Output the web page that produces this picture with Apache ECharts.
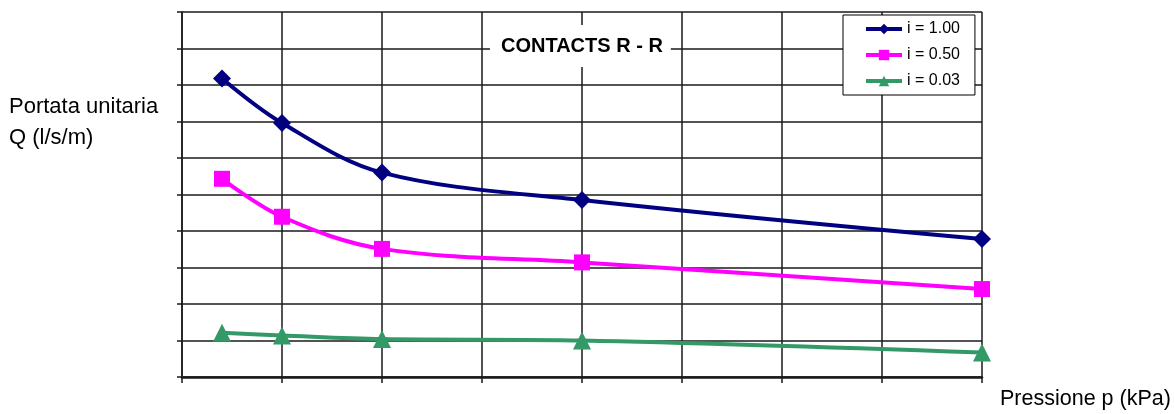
<!DOCTYPE html>
<html>
<head>
<meta charset="utf-8">
<script src="https://cdn.jsdelivr.net/npm/echarts@6/dist/echarts.min.js"></script>
<style>
  html, body { margin: 0; padding: 0; background: #fff; }
  #chart { width: 1174px; height: 414px; }
</style>
</head>
<body>
<div id="chart"></div>
<script>
// Pressure values (kPa) at which the discharge was measured
const pressure = [20, 50, 100, 200, 400];

// Unit discharge Q for each hydraulic gradient
const seriesNames = ['i = 1.00', 'i = 0.50', 'i = 0.03'];
const qGradient100 = [8.18, 6.96, 5.60, 4.85, 3.78];
const qGradient050 = [5.43, 4.39, 3.51, 3.14, 2.41];
const qGradient003 = [1.21, 1.14, 1.04, 1.00, 0.67];

const chartTitle = 'CONTACTS R - R';
const yTitle = 'Portata unitaria\nQ (l/s/m)';
const xTitle = 'Pressione p (kPa)';

const gridColor = '#1a1a1a';
const font = 'Arial, "Liberation Sans", sans-serif';

function pairs(ys) {
  return pressure.map((x, k) => [x, ys[k]]);
}

function lineSeries(name, ys, color, symbol, size) {
  return {
    name: name,
    type: 'line',
    data: pairs(ys),
    smooth: 0.35,
    symbol: symbol,
    symbolSize: size,
    showAllSymbol: true,
    lineStyle: { color: color, width: 4 },
    itemStyle: { color: color },
    emphasis: { disabled: true },
    z: 3
  };
}

const chart = echarts.init(document.getElementById('chart'), null, { renderer: 'canvas' });

chart.setOption({
  animation: false,
  backgroundColor: '#ffffff',
  title: {
    text: chartTitle,
    left: 490,
    top: 25,
    padding: [11, 8, 11, 11],
    backgroundColor: '#ffffff',
    textStyle: { fontFamily: font, fontSize: 20, fontWeight: 'bold', color: '#000', lineHeight: 20 }
  },
  legend: {
    orient: 'vertical',
    left: 843,
    top: 15,
    padding: [6, 15, 6, 21],
    itemWidth: 36,
    itemHeight: 13,
    itemGap: 10,
    backgroundColor: '#ffffff',
    borderColor: '#000',
    borderWidth: 1,
    lineStyle: { width: 4 },
    textStyle: { fontFamily: font, fontSize: 16, color: '#000', lineHeight: 16 },
    data: seriesNames
  },
  grid: {
    left: 182,
    top: 12,
    width: 800,
    height: 365,
    containLabel: false
  },
  xAxis: {
    type: 'value',
    min: 0,
    max: 400,
    interval: 50,
    axisLabel: { show: false },
    axisLine: { show: true, onZero: false, lineStyle: { color: gridColor, width: 2.5 } },
    axisTick: { show: true, length: 6, lineStyle: { color: gridColor, width: 1.5 } },
    splitLine: { show: true, lineStyle: { color: gridColor, width: 1.5 } }
  },
  yAxis: {
    type: 'value',
    min: 0,
    max: 10,
    interval: 1,
    axisLabel: { show: false },
    axisLine: { show: true, lineStyle: { color: gridColor, width: 1.5 } },
    axisTick: { show: true, length: 5, lineStyle: { color: gridColor, width: 1.5 } },
    splitLine: { show: true, lineStyle: { color: gridColor, width: 1.5 } }
  },
  graphic: [
    {
      type: 'text',
      left: 9,
      top: 91,
      style: { text: yTitle, font: '22px ' + font, fill: '#000', lineHeight: 31 }
    },
    {
      type: 'text',
      left: 1000,
      top: 388,
      style: { text: xTitle, font: '21.5px ' + font, fill: '#000' }
    }
  ],
  series: [
    lineSeries(seriesNames[0], qGradient100, '#000080', 'diamond', 18),
    lineSeries(seriesNames[1], qGradient050, '#ff00ff', 'rect', 16),
    lineSeries(seriesNames[2], qGradient003, '#339966', 'triangle', 18)
  ]
});
</script>
</body>
</html>
